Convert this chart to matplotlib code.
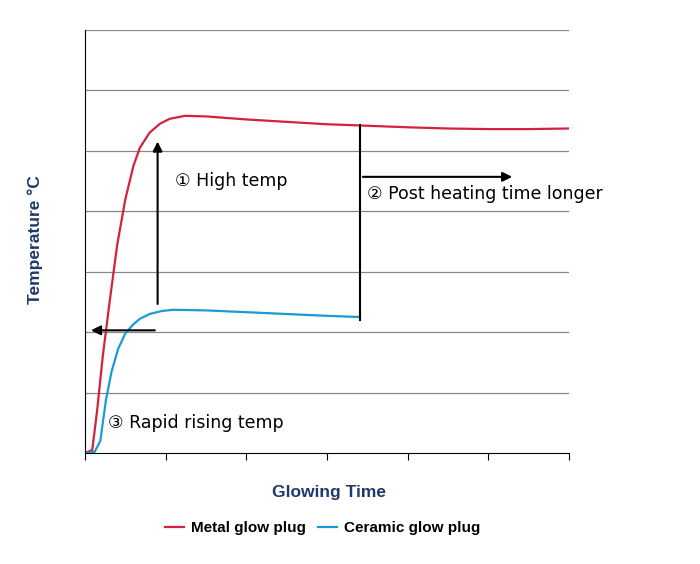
import matplotlib
matplotlib.use("Agg")
import matplotlib.pyplot as plt
from matplotlib.lines import Line2D

plt.rcParams["font.family"] = "Liberation Sans"

metal_x = [0, 0.09, 0.15, 0.22, 0.31, 0.4, 0.5, 0.6, 0.68, 0.8, 0.93, 1.05, 1.24, 1.5, 2.0, 2.5, 3.0, 3.41, 4.0, 4.5, 5.0, 5.5, 6.0]
metal_y = [0, 0.05, 0.7, 1.6, 2.55, 3.45, 4.2, 4.75, 5.05, 5.3, 5.45, 5.53, 5.58, 5.57, 5.52, 5.48, 5.44, 5.42, 5.39, 5.37, 5.36, 5.36, 5.37]
ceramic_x = [0, 0.12, 0.19, 0.26, 0.33, 0.41, 0.5, 0.6, 0.68, 0.8, 0.95, 1.1, 1.5, 2.0, 2.5, 3.0, 3.41]
ceramic_y = [0, 0.02, 0.2, 0.88, 1.35, 1.72, 1.98, 2.13, 2.22, 2.3, 2.35, 2.37, 2.36, 2.33, 2.3, 2.27, 2.25]

red = "#d4213d"; blue = "#1c9ad6"; navy = "#1f3a6a"

fig = plt.figure(figsize=(7, 5.64), dpi=100)
ax = fig.add_axes([85/700, 111/564, 484/700, 423/564])
ax.set_xlim(0, 6); ax.set_ylim(0, 7)
for y in range(1, 8):
    ax.axhline(y, color="#888888", lw=0.9, zorder=0)
for s in ["top", "right"]:
    ax.spines[s].set_visible(False)
ax.set_xticks(range(7)); ax.set_xticklabels([])
ax.set_yticks([])
ax.tick_params(axis="x", direction="out", length=5)

ax.plot(metal_x, metal_y, color=red, lw=1.6)
ax.plot(ceramic_x, ceramic_y, color=blue, lw=1.6)

ap = dict(arrowstyle="-|>", color="black", lw=1.5, mutation_scale=14)
ax.annotate("", xy=(0.9, 5.2), xytext=(0.9, 2.42), arrowprops=ap)
ax.annotate("", xy=(0.04, 2.03), xytext=(0.9, 2.03), arrowprops=ap)
ax.plot([3.41, 3.41], [2.2, 5.42], color="black", lw=1.5)
ax.annotate("", xy=(5.33, 4.57), xytext=(3.41, 4.57), arrowprops=ap)

ax.text(1.12, 4.5, "① High temp", fontsize=12.5, va="center", family="DejaVu Sans")
ax.text(3.5, 4.28, "② Post heating time longer", fontsize=12.5, va="center", family="DejaVu Sans")
ax.text(0.29, 0.5, "③ Rapid rising temp", fontsize=12.5, va="center", family="DejaVu Sans")

fig.text(35/700, 1 - 240/564, "Temperature °C", rotation=90, color=navy, fontsize=12.5, fontweight="bold", ha="center", va="center")
fig.text(329/700, 1 - 493/564, "Glowing Time", color=navy, fontsize=12.5, fontweight="bold", ha="center", va="center")
handles = [Line2D([], [], color=red, lw=1.6), Line2D([], [], color=blue, lw=1.6)]
fig.legend(handles, ["Metal glow plug", "Ceramic glow plug"], loc="center", bbox_to_anchor=(323/700, 1 - 528/564),
           ncol=2, frameon=False, handlelength=1.2, columnspacing=0.8, handletextpad=0.5,
           prop={"weight": "bold", "size": 11, "family": "Liberation Sans"})
fig.savefig("out.png", dpi=100)
